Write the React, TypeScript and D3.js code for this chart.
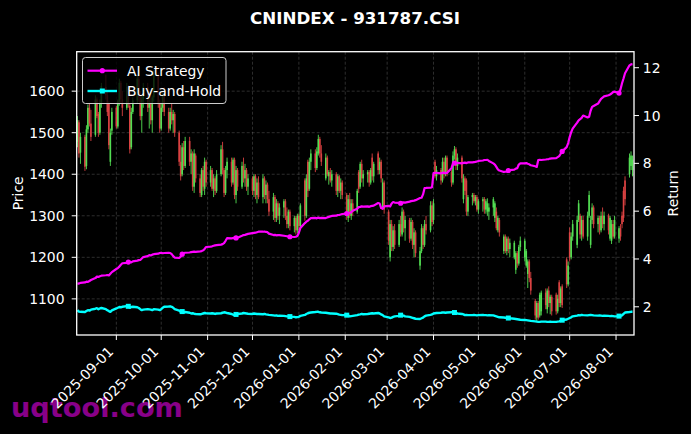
import * as d3 from "d3";

const TITLE = "CNINDEX - 931787.CSI";
const FIRST_DAY = new Date(2025, 7, 6);
const LAST_DAY = new Date(2026, 7, 12);

// daily candles, one per weekday from 2025-08-06
const opens = [
  1478, 1525, 1452,
  1490, 1420, 1508, 1560, 1522, 1495, 1580, 1545, 1500, 1570, 1610, 1590, 1570, 1430, 1505,
  1560, 1515, 1575, 1620, 1580, 1560, 1610, 1565, 1465, 1550, 1578, 1630, 1585, 1540, 1580,
  1610, 1560, 1570, 1530, 1585, 1640, 1570, 1510, 1560, 1590, 1550, 1510, 1550, 1530, 1545,
  1500, 1430, 1400, 1465, 1420, 1480, 1430, 1450, 1370, 1445, 1390, 1350, 1410, 1365, 1430,
  1380, 1410, 1365, 1390, 1360, 1400, 1460, 1410, 1355, 1410, 1430, 1380, 1435, 1350, 1410,
  1370, 1420, 1390, 1410, 1370, 1390, 1360, 1395, 1350, 1380, 1345, 1390, 1350, 1375, 1340,
  1310, 1345, 1295, 1330, 1300, 1320, 1335, 1300, 1280, 1310, 1275, 1295, 1265, 1300, 1275,
  1385, 1300, 1430, 1365, 1430, 1450, 1415, 1450, 1485, 1450, 1390, 1440, 1395, 1405, 1385,
  1400, 1360, 1395, 1360, 1380, 1350, 1295, 1340, 1300, 1330, 1310, 1405, 1370, 1425, 1390,
  1400, 1405, 1380, 1440, 1395, 1450, 1410, 1430, 1320, 1380, 1310, 1200, 1280, 1225, 1265,
  1230, 1280, 1255, 1310, 1270, 1290, 1245, 1285, 1230, 1260, 1180, 1215, 1270, 1230, 1280,
  1265, 1325, 1290, 1430, 1395, 1410, 1385, 1430, 1400, 1440, 1405, 1380, 1445, 1460, 1420,
  1440, 1340, 1390, 1385, 1310, 1345, 1350, 1335, 1345, 1315, 1335, 1340, 1315, 1310, 1310,
  1320, 1295, 1310, 1265, 1290, 1215, 1250, 1215, 1245, 1220, 1200, 1170, 1210, 1185, 1225,
  1200, 1180, 1160, 1190, 1150, 1095, 1055, 1090, 1060, 1070, 1115, 1075, 1120, 1090, 1105,
  1110, 1070, 1140, 1090, 1130, 1195, 1135, 1260, 1200, 1250, 1230, 1290, 1300, 1255, 1290,
  1250, 1300, 1230, 1290, 1320, 1280, 1295, 1265, 1300, 1280, 1300, 1245, 1240, 1280, 1250,
  1245, 1270, 1300, 1360, 1385, 1400, 1420, 1410,
];
const highs = [
  1540, 1530, 1500,
  1495, 1518, 1568, 1572, 1555, 1590, 1585, 1550, 1580, 1620, 1640, 1600, 1575, 1510, 1560,
  1565, 1580, 1630, 1625, 1600, 1620, 1615, 1570, 1560, 1585, 1640, 1640, 1600, 1590, 1620,
  1620, 1580, 1600, 1590, 1650, 1645, 1580, 1570, 1600, 1610, 1560, 1560, 1570, 1555, 1550,
  1505, 1470, 1475, 1480, 1490, 1490, 1460, 1455, 1460, 1450, 1400, 1415, 1420, 1440, 1435,
  1420, 1415, 1400, 1395, 1410, 1470, 1478, 1415, 1420, 1440, 1440, 1440, 1440, 1420, 1415,
  1430, 1440, 1425, 1415, 1400, 1395, 1400, 1400, 1390, 1395, 1400, 1395, 1385, 1380, 1360,
  1355, 1350, 1340, 1335, 1330, 1340, 1340, 1320, 1315, 1315, 1300, 1300, 1305, 1305, 1330,
  1390, 1400, 1435, 1440, 1460, 1460, 1465, 1495, 1490, 1470, 1450, 1445, 1410, 1415, 1410,
  1405, 1400, 1398, 1390, 1385, 1355, 1350, 1355, 1340, 1340, 1365, 1410, 1430, 1435, 1410,
  1410, 1410, 1415, 1450, 1430, 1455, 1440, 1435, 1390, 1385, 1315, 1290, 1290, 1275, 1280,
  1290, 1300, 1320, 1315, 1300, 1295, 1295, 1290, 1270, 1265, 1225, 1280, 1275, 1290, 1300,
  1335, 1335, 1340, 1435, 1420, 1415, 1440, 1440, 1445, 1445, 1410, 1455, 1468, 1465, 1450,
  1445, 1400, 1395, 1390, 1350, 1355, 1355, 1350, 1350, 1340, 1345, 1345, 1340, 1342, 1330,
  1345, 1335, 1320, 1300, 1295, 1255, 1255, 1250, 1250, 1245, 1240, 1215, 1215, 1230, 1250,
  1245, 1220, 1195, 1195, 1165, 1100, 1095, 1095, 1115, 1120, 1125, 1125, 1130, 1110, 1110,
  1115, 1110, 1145, 1130, 1135, 1200, 1190, 1272, 1260, 1290, 1300, 1338, 1305, 1300, 1300,
  1310, 1360, 1300, 1330, 1325, 1300, 1300, 1310, 1320, 1310, 1305, 1300, 1290, 1290, 1300,
  1275, 1280, 1310, 1370, 1395, 1450, 1455, 1445,
];
const lows = [
  1465, 1440, 1425,
  1408, 1412, 1500, 1515, 1480, 1490, 1535, 1490, 1495, 1560, 1580, 1540, 1460, 1420, 1495,
  1510, 1510, 1565, 1570, 1540, 1555, 1560, 1450, 1460, 1545, 1570, 1575, 1530, 1500, 1560,
  1550, 1510, 1520, 1500, 1575, 1560, 1500, 1505, 1550, 1540, 1500, 1505, 1520, 1500, 1490,
  1420, 1385, 1395, 1410, 1415, 1420, 1400, 1360, 1355, 1380, 1345, 1345, 1360, 1350, 1370,
  1370, 1360, 1345, 1350, 1355, 1395, 1400, 1345, 1350, 1390, 1370, 1375, 1340, 1330, 1360,
  1365, 1380, 1370, 1360, 1350, 1350, 1345, 1340, 1330, 1340, 1330, 1340, 1330, 1330, 1300,
  1290, 1285, 1285, 1290, 1280, 1295, 1290, 1270, 1270, 1265, 1260, 1255, 1258, 1265, 1270,
  1288, 1295, 1345, 1360, 1410, 1405, 1410, 1445, 1440, 1420, 1385, 1395, 1375, 1380, 1370,
  1350, 1345, 1355, 1340, 1340, 1290, 1285, 1295, 1290, 1300, 1305, 1355, 1365, 1380, 1370,
  1380, 1370, 1375, 1385, 1380, 1400, 1400, 1380, 1315, 1305, 1230, 1190, 1215, 1215, 1220,
  1225, 1250, 1250, 1260, 1240, 1235, 1240, 1220, 1200, 1200, 1170, 1210, 1220, 1225, 1255,
  1260, 1275, 1280, 1390, 1385, 1375, 1380, 1390, 1395, 1395, 1370, 1375, 1435, 1410, 1410,
  1380, 1330, 1350, 1300, 1300, 1325, 1330, 1325, 1310, 1305, 1310, 1305, 1305, 1300, 1290,
  1300, 1285, 1265, 1260, 1250, 1208, 1210, 1205, 1210, 1200, 1195, 1160, 1175, 1180, 1215,
  1190, 1175, 1126, 1140, 1110, 1050, 1046, 1050, 1055, 1060, 1075, 1065, 1080, 1063, 1060,
  1062, 1065, 1080, 1080, 1078, 1126, 1130, 1190, 1195, 1240, 1222, 1285, 1245, 1240, 1245,
  1240, 1295, 1222, 1280, 1270, 1260, 1255, 1260, 1270, 1265, 1255, 1240, 1232, 1245, 1245,
  1235, 1240, 1270, 1285, 1325, 1392, 1410, 1395,
];
const closes = [
  1530, 1450, 1490,
  1418, 1508, 1560, 1522, 1490, 1580, 1540, 1500, 1570, 1612, 1590, 1550, 1470, 1500, 1550,
  1515, 1575, 1620, 1580, 1560, 1610, 1570, 1460, 1550, 1578, 1630, 1585, 1540, 1580, 1610,
  1560, 1570, 1530, 1585, 1640, 1570, 1510, 1560, 1590, 1550, 1510, 1550, 1530, 1545, 1500,
  1430, 1395, 1465, 1420, 1480, 1430, 1450, 1370, 1450, 1390, 1355, 1410, 1370, 1430, 1380,
  1410, 1365, 1390, 1360, 1400, 1460, 1410, 1355, 1410, 1430, 1380, 1435, 1350, 1410, 1370,
  1420, 1390, 1410, 1370, 1390, 1360, 1395, 1350, 1380, 1345, 1390, 1350, 1375, 1340, 1310,
  1345, 1295, 1330, 1300, 1320, 1335, 1300, 1280, 1310, 1275, 1295, 1265, 1300, 1275, 1325,
  1300, 1390, 1360, 1430, 1450, 1415, 1455, 1485, 1450, 1430, 1440, 1400, 1405, 1385, 1400,
  1360, 1395, 1360, 1380, 1350, 1300, 1340, 1300, 1330, 1310, 1360, 1365, 1425, 1390, 1400,
  1405, 1380, 1410, 1395, 1425, 1410, 1430, 1390, 1380, 1315, 1240, 1280, 1225, 1265, 1230,
  1280, 1260, 1310, 1270, 1290, 1245, 1285, 1230, 1260, 1210, 1215, 1270, 1230, 1280, 1265,
  1325, 1285, 1330, 1395, 1410, 1385, 1430, 1400, 1440, 1405, 1380, 1445, 1460, 1420, 1440,
  1390, 1390, 1360, 1310, 1345, 1350, 1335, 1345, 1315, 1335, 1340, 1315, 1335, 1330, 1320,
  1340, 1330, 1270, 1295, 1260, 1250, 1215, 1245, 1220, 1235, 1235, 1210, 1185, 1225, 1240,
  1240, 1215, 1190, 1150, 1120, 1060, 1090, 1055, 1110, 1115, 1085, 1120, 1090, 1105, 1070,
  1070, 1100, 1090, 1125, 1085, 1135, 1180, 1200, 1250, 1280, 1290, 1330, 1255, 1290, 1250,
  1300, 1350, 1290, 1320, 1280, 1295, 1265, 1300, 1280, 1300, 1265, 1295, 1280, 1250, 1290,
  1270, 1250, 1280, 1295, 1340, 1440, 1445, 1435,
];

// cumulative return, right axis
const aiStrategy = [
  2.98, 2.97, 3.0,
  3.02, 3.05, 3.04, 3.08, 3.12, 3.2, 3.26, 3.25, 3.28, 3.3, 3.32, 3.33, 3.31, 3.38, 3.45,
  3.58, 3.62, 3.68, 3.76, 3.82, 3.84, 3.87, 3.88, 3.86, 3.9, 3.93, 3.95, 3.96, 4.02, 4.08,
  4.12, 4.16, 4.15, 4.18, 4.2, 4.22, 4.25, 4.26, 4.24, 4.25, 4.26, 4.25, 4.2, 4.12, 4.06,
  4.04, 4.1, 4.2, 4.25, 4.26, 4.27, 4.29, 4.3, 4.31, 4.3, 4.32, 4.33, 4.36, 4.42, 4.5,
  4.52, 4.53, 4.55, 4.57, 4.58, 4.6, 4.62, 4.66, 4.76, 4.87, 4.86, 4.88, 4.87, 4.88, 4.89,
  4.97, 5.0, 5.01, 5.03, 5.05, 5.08, 5.09, 5.1, 5.12, 5.14, 5.14, 5.15, 5.13, 5.12, 5.06,
  5.0, 5.01, 4.99, 5.0, 5.0, 4.97, 4.96, 4.95, 4.94, 4.93, 4.92, 4.93, 4.96, 5.1, 5.3,
  5.5, 5.56, 5.6, 5.66, 5.71, 5.72, 5.7, 5.73, 5.71, 5.72, 5.71, 5.74, 5.76, 5.78, 5.8,
  5.81, 5.84, 5.84, 5.86, 5.88, 5.9, 5.92, 5.92, 5.95, 6.02, 6.1, 6.17, 6.18, 6.2, 6.19,
  6.2, 6.18, 6.21, 6.22, 6.23, 6.34, 6.32, 6.13, 6.1, 6.2, 6.22, 6.2, 6.32, 6.38, 6.36,
  6.35, 6.33, 6.36, 6.37, 6.36, 6.4, 6.42, 6.43, 6.44, 6.46, 6.55, 6.56, 6.7, 6.96, 6.97,
  6.98, 7.0, 7.59, 7.6, 7.6, 7.58, 7.6, 7.61, 7.59, 7.6, 7.8, 8.0, 8.01, 8.0, 8.02,
  8.0, 8.02, 8.03, 8.01, 8.04, 8.04, 8.05, 8.06, 8.08, 8.1, 8.12, 8.14, 8.14, 8.15, 8.1,
  8.0, 7.95, 7.85, 7.75, 7.7, 7.64, 7.65, 7.66, 7.7, 7.72, 7.74, 7.78, 7.8, 7.95, 8.0,
  8.0, 8.01, 7.98, 7.96, 7.92, 7.88, 7.85, 8.14, 8.15, 8.14, 8.16, 8.17, 8.18, 8.2, 8.21,
  8.22, 8.26, 8.3, 8.4, 8.5, 8.68, 8.85, 9.1, 9.3, 9.45, 9.7, 9.8, 9.85, 9.9, 10.0,
  9.92, 9.95, 10.2, 10.36, 10.4, 10.5, 10.6, 10.7, 10.75, 10.8, 10.85, 10.88, 10.92, 10.98, 11.0,
  10.94, 11.1, 11.35, 11.55, 11.77, 12.1, 12.14, 12.15,
];
const buyAndHold = [
  1.86, 1.8, 1.79,
  1.78, 1.82, 1.86, 1.84, 1.88, 1.92, 1.94, 1.9, 1.93, 1.95, 1.9, 1.86, 1.82, 1.79, 1.85,
  1.93, 1.96, 1.99, 1.98, 2.0, 2.03, 2.02, 1.97, 1.99, 2.0, 1.98, 1.95, 1.9, 1.86, 1.88,
  1.9, 1.89, 1.88, 1.86, 1.9, 1.88, 1.86, 1.9, 1.96, 2.0, 2.01, 2.02, 2.0, 1.96, 1.9,
  1.84, 1.79, 1.8, 1.77, 1.78, 1.75, 1.72, 1.73, 1.71, 1.7, 1.69, 1.7, 1.72, 1.74, 1.73,
  1.72, 1.73, 1.72, 1.7, 1.72, 1.73, 1.75, 1.77, 1.76, 1.74, 1.7, 1.67, 1.65, 1.68, 1.7,
  1.72, 1.74, 1.73, 1.72, 1.71, 1.7, 1.72, 1.71, 1.7, 1.7, 1.69, 1.7, 1.68, 1.67, 1.66,
  1.64, 1.63, 1.64, 1.62, 1.63, 1.62, 1.61, 1.6, 1.6, 1.59, 1.58, 1.56, 1.57, 1.58, 1.62,
  1.66, 1.7, 1.73, 1.75, 1.76, 1.78, 1.79, 1.79, 1.77, 1.76, 1.75, 1.74, 1.73, 1.72, 1.72,
  1.71, 1.69, 1.67, 1.66, 1.65, 1.65, 1.64, 1.6, 1.61, 1.62, 1.65, 1.67, 1.68, 1.7, 1.69,
  1.7, 1.71, 1.72, 1.73, 1.72, 1.74, 1.72, 1.68, 1.65, 1.6, 1.56, 1.53, 1.55, 1.58, 1.6,
  1.62, 1.65, 1.64, 1.63, 1.6, 1.58, 1.56, 1.54, 1.52, 1.5, 1.49, 1.52, 1.55, 1.6, 1.63,
  1.66, 1.68, 1.72, 1.73, 1.74, 1.75, 1.76, 1.76, 1.75, 1.76, 1.77, 1.77, 1.76, 1.74, 1.72,
  1.7, 1.68, 1.65, 1.66, 1.65, 1.65, 1.66, 1.65, 1.64, 1.65, 1.66, 1.65, 1.65, 1.64, 1.65,
  1.64, 1.62, 1.6, 1.58, 1.56, 1.55, 1.54, 1.54, 1.53, 1.52, 1.5, 1.49, 1.48, 1.47, 1.46,
  1.45, 1.44, 1.43, 1.42, 1.41, 1.39, 1.38, 1.37, 1.37, 1.38, 1.38, 1.37, 1.37, 1.38, 1.37,
  1.37, 1.38, 1.39, 1.41, 1.44, 1.47, 1.5, 1.53, 1.56, 1.6, 1.63, 1.65, 1.64, 1.66, 1.65,
  1.64, 1.65, 1.66, 1.65, 1.64, 1.63, 1.64, 1.63, 1.62, 1.63, 1.62, 1.61, 1.62, 1.61, 1.6,
  1.61, 1.62, 1.64, 1.7, 1.76, 1.78, 1.79, 1.79,
];

const priceTicks = [1100, 1200, 1300, 1400, 1500, 1600];
const returnTicks = [2, 4, 6, 8, 10, 12];
const dateTicks = [
  "2025-09-01", "2025-10-01", "2025-11-01", "2025-12-01", "2026-01-01", "2026-02-01",
  "2026-03-01", "2026-04-01", "2026-05-01", "2026-06-01", "2026-07-01", "2026-08-01",
];

const W = 691;
const H = 434;
const m = { left: 76.7, right: 634, top: 51.7, bottom: 335 };
const UP = "#5cf75c";
const DOWN = "#f24a4a";
const AI_COLOR = "#ff00ff";
const BH_COLOR = "#00ffff";
const FONT = "DejaVu Sans, sans-serif";
const FS = 13.9;

const days = d3.timeDay
  .range(FIRST_DAY, d3.timeDay.offset(LAST_DAY, 1))
  .filter(d => d.getDay() !== 0 && d.getDay() !== 6)
  .slice(0, closes.length);

export default function App() {
  const x = d3.scaleTime()
    .domain([new Date(2025, 7, 5, 12), new Date(2026, 7, 13, 0)])
    .range([m.left, m.right]);
  const yP = d3.scaleLinear().domain([1013, 1695]).range([m.bottom, m.top]);
  const yR = d3.scaleLinear().domain([0.82, 12.67]).range([m.bottom, m.top]);

  const line = d3.line<number>()
    .x((_, i) => x(days[i]))
    .y(v => yR(v));

  const markIdx = days.map((_, i) => i).filter(i => i >= 24 && (i - 24) % 26 === 0);
  const parse = d3.timeParse("%Y-%m-%d");

  return (
    <div style={{ position: "absolute", left: 0, top: 0, background: "#000" }}>
      <svg width={W} height={H} style={{ display: "block", fontFamily: FONT }}>
        <defs>
          <clipPath id="plot">
            <rect x={m.left} y={m.top} width={m.right - m.left} height={m.bottom - m.top} />
          </clipPath>
        </defs>
        <rect width={W} height={H} fill="#000" />

        <text x={355} y={24} textAnchor="middle" fill="#fff" fontSize={16.7} fontWeight="bold">
          {TITLE}
        </text>

        {/* grid */}
        <g stroke="#8a8a8a" strokeOpacity={0.55} strokeWidth={0.6} strokeDasharray="3 2">
          {priceTicks.map(t => (
            <line key={t} x1={m.left} x2={m.right} y1={yP(t)} y2={yP(t)} />
          ))}
          {dateTicks.map(t => (
            <line key={t} x1={x(parse(t)!)} x2={x(parse(t)!)} y1={m.top} y2={m.bottom} />
          ))}
        </g>

        {/* candles */}
        <g clipPath="url(#plot)">
          {days.map((d, i) => {
            const cx = x(d);
            const o = opens[i];
            const c = closes[i];
            const col = c >= o ? UP : DOWN;
            const top = yP(Math.max(o, c));
            const h = Math.max(0.6, Math.abs(yP(o) - yP(c)));
            return (
              <g key={i} opacity={0.9}>
                <line x1={cx} x2={cx} y1={yP(highs[i])} y2={yP(lows[i])} stroke={col} strokeWidth={0.9} />
                <rect x={cx - 0.8} width={1.6} y={top} height={h} fill={col} />
              </g>
            );
          })}
        </g>

        {/* return lines */}
        <g clipPath="url(#plot)">
          <path d={line(aiStrategy) ?? ""} fill="none" stroke={AI_COLOR} strokeWidth={2.2} strokeLinejoin="round" />
          {markIdx.map(i => (
            <circle key={i} cx={x(days[i])} cy={yR(aiStrategy[i])} r={2.6} fill={AI_COLOR} />
          ))}
          <path d={line(buyAndHold) ?? ""} fill="none" stroke={BH_COLOR} strokeWidth={2.4} strokeLinejoin="round" />
          {markIdx.map(i => (
            <rect key={i} x={x(days[i]) - 2.5} y={yR(buyAndHold[i]) - 2.5} width={5} height={5} fill={BH_COLOR} />
          ))}
        </g>

        {/* frame */}
        <rect x={m.left} y={m.top} width={m.right - m.left} height={m.bottom - m.top}
          fill="none" stroke="#fff" strokeWidth={1.3} />

        <text x={11} y={417} fill="#880088" fontSize={27.2} fontWeight="bold">uqtool.com</text>

        {/* axes */}
        <g fill="#fff" fontSize={FS}>
          {priceTicks.map(t => (
            <g key={t}>
              <line x1={m.left - 5} x2={m.left} y1={yP(t)} y2={yP(t)} stroke="#fff" strokeWidth={1} />
              <text x={64.5} y={yP(t)} dy="0.36em" textAnchor="end">{t}</text>
            </g>
          ))}
          {returnTicks.map(t => (
            <g key={t}>
              <line x1={m.right} x2={m.right + 5} y1={yR(t)} y2={yR(t)} stroke="#fff" strokeWidth={1} />
              <text x={642.8} y={yR(t)} dy="0.36em" textAnchor="start">{t}</text>
            </g>
          ))}
          {dateTicks.map(t => {
            const tx = x(parse(t)!);
            return (
              <g key={t}>
                <line x1={tx} x2={tx} y1={m.bottom} y2={m.bottom + 5} stroke="#fff" strokeWidth={1} />
                <text transform={`translate(${tx - 2},352.5) rotate(-45)`} textAnchor="end">
                  {t}
                </text>
              </g>
            );
          })}
          <text transform={`translate(17.5,${(m.top + m.bottom) / 2}) rotate(-90)`} dy="0.36em" textAnchor="middle">
            Price
          </text>
          <text transform={`translate(673,${(m.top + m.bottom) / 2}) rotate(-90)`} dy="0.36em" textAnchor="middle">
            Return
          </text>
        </g>

        {/* legend */}
        <g>
          <rect x={82.5} y={57.5} width={143.5} height={46} rx={3} fill="#000" fillOpacity={0.8}
            stroke="#cccccc" strokeWidth={1} />
          <line x1={87.5} x2={117} y1={70.7} y2={70.7} stroke={AI_COLOR} strokeWidth={2.2} />
          <circle cx={102.3} cy={70.7} r={2.6} fill={AI_COLOR} />
          <text x={127} y={70.7} dy="0.36em" fill="#fff" fontSize={FS}>AI Strategy</text>
          <line x1={87.5} x2={117} y1={91} y2={91} stroke={BH_COLOR} strokeWidth={2.4} />
          <rect x={99.8} y={88.5} width={5} height={5} fill={BH_COLOR} />
          <text x={127} y={91} dy="0.36em" fill="#fff" fontSize={FS}>Buy-and-Hold</text>
        </g>
      </svg>
    </div>
  );
}
